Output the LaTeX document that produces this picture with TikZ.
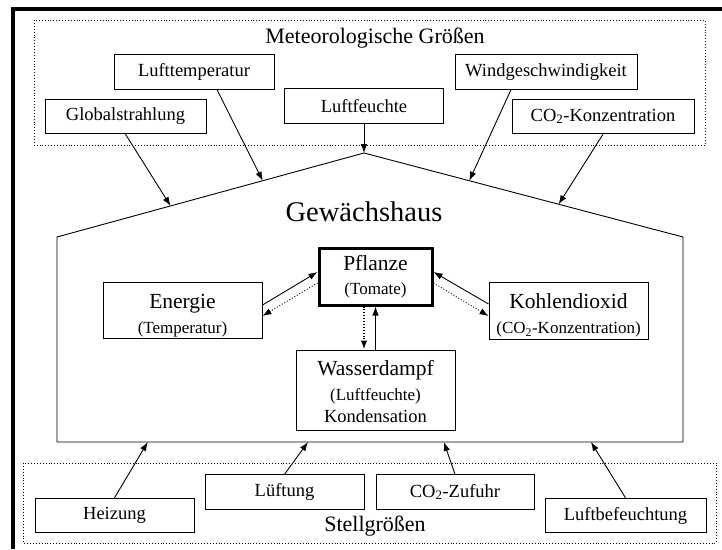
\documentclass[tikz,border=0pt]{standalone}
\usepackage{fontspec}
\setmainfont{Liberation Serif}
\usetikzlibrary{arrows.meta,calc}

\newcommand\boxtitle{\fontsize{21.5}{25}\selectfont}

\begin{document}
\begin{tikzpicture}[x=1pt,y=-1pt,
    box/.style={draw,line width=0.9pt,inner sep=0pt,minimum height=34.5pt,font=\fontsize{18.5}{22}\selectfont},
    bigbox/.style={draw,line width=0.9pt,inner sep=0pt,align=center,minimum width=159pt,font=\fontsize{17}{25}\selectfont},
    arr/.style={-{Latex[length=9pt,width=6.5pt]},line width=0.9pt},
    darr/.style={arr,dotted},
    zone/.style={draw,dotted,line width=0.9pt}]

  \useasboundingbox (0,0) rectangle (722,549);
  \draw[line width=4pt] (13,549) -- (13,9) -- (722,9);

  % Meteorologische Groessen
  \draw[zone] (34,20) rectangle (705,145);
  \node[font=\fontsize{22}{26}\selectfont] (meteo) at (375,38) {Meteorologische Größen};
  \node[box,minimum width=160pt] (lufttemp) at (194,72) {Lufttemperatur};
  \node[box,minimum width=161pt] (global) at (125.5,116.5) {Globalstrahlung};
  \node[box,minimum width=159pt] (luftfeucht) at (364,106) {Luftfeuchte};
  \node[box,minimum width=182pt] (wind) at (546,72) {Windgeschwindigkeit};
  \node[box,minimum width=182pt] (cokonz) at (603,116.5) {CO\textsubscript{2}-Konzentration};

  % Gewaechshaus
  \coordinate (eaveL) at (57,237);
  \coordinate (apex) at (364,153);
  \coordinate (eaveR) at (683,237);
  \coordinate (baseL) at (57,442);
  \coordinate (baseR) at (683,442);
  \draw[line width=0.9pt] (baseL) -- (eaveL) -- (apex) -- (eaveR) -- (baseR) -- cycle;
  \node[font=\fontsize{28.5}{32}\selectfont] (haus) at (364,212) {Gewächshaus};

  \node[draw,line width=3pt,inner sep=0pt,align=center,minimum width=113pt,minimum height=57pt,
        font=\fontsize{17}{24}\selectfont] (pflanze) at (375.5,276.5) {{\boxtitle Pflanze}\\(Tomate)};
  \node[bigbox,minimum height=56pt] (energie) at (182.5,310) {{\boxtitle\rule{0pt}{25pt}Energie}\\(Temperatur)};
  \node[bigbox,minimum height=57pt] (kohle) at (568.5,310.5) {{\boxtitle\rule{0pt}{25pt}Kohlendioxid}\\(CO\textsubscript{2}-Konzentration)};
  \node[bigbox,minimum height=80pt] (wasser) at (375.5,390) {{\boxtitle\rule{0pt}{19pt}Wasserdampf}\\(Luftfeuchte)\\[-3pt]{\fontsize{18.5}{22}\selectfont Kondensation}};

  \draw[arr] ([yshift=5pt]energie.east) -- ([yshift=4.5pt]pflanze.west);
  \draw[darr] ([yshift=-6.5pt]pflanze.west) -- ([yshift=-6pt]energie.east);
  \draw[arr] ([yshift=6.5pt]kohle.west) -- ([yshift=4.5pt]pflanze.east);
  \draw[darr] ([yshift=-6.5pt]pflanze.east) -- ([yshift=-5.5pt]kohle.west);
  \draw[arr] (wasser.north) -- (pflanze.south);
  \draw[darr,line width=2pt] ([xshift=-11.5pt]pflanze.south) -- ([xshift=-11.5pt]wasser.north);

  % Meteorologische Groessen -> Dach
  \draw[arr] (global.south) -- ($(eaveL)!0.37!(apex)$);
  \draw[arr] ([xshift=23pt]lufttemp.south) -- ($(eaveL)!0.67!(apex)$);
  \draw[arr] (luftfeucht.south) -- (apex);
  \draw[arr] ([xshift=-35pt]wind.south) -- ($(apex)!0.33!(eaveR)$);
  \draw[arr] (cokonz.south) -- ($(apex)!0.61!(eaveR)$);

  % Stellgroessen
  \draw[zone] (23,463) rectangle (716,543);
  \node[font=\fontsize{22}{26}\selectfont] (stell) at (375,526) {Stellgrößen};
  \node[box,minimum width=159pt] (heizung) at (114.5,515.5) {Heizung};
  \node[box,minimum width=159pt] (lueftung) at (284.5,492) {Lüftung};
  \node[box,minimum width=158pt] (cozufuhr) at (455,492) {CO\textsubscript{2}-Zufuhr};
  \node[box,minimum width=161pt] (befeucht) at (625.5,515.5) {Luftbefeuchtung};

  \draw[arr] (heizung.north) -- ($(baseL)!0.145!(baseR)$);
  \draw[arr] (lueftung.north) -- ($(baseL)!0.401!(baseR)$);
  \draw[arr] (cozufuhr.north) -- ($(baseL)!0.618!(baseR)$);
  \draw[arr] (befeucht.north) -- ($(baseL)!0.853!(baseR)$);
\end{tikzpicture}
\end{document}
